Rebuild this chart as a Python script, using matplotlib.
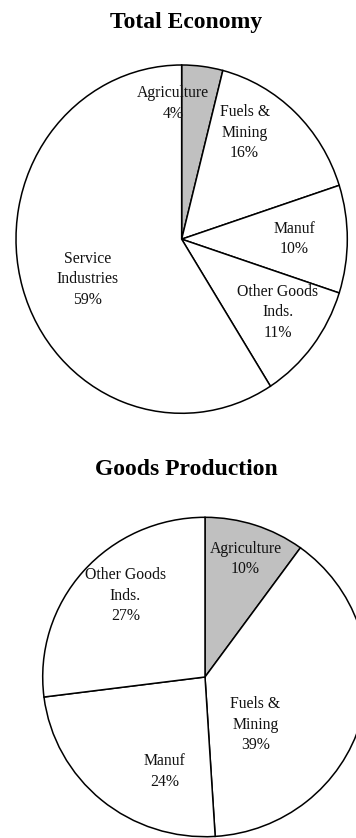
import matplotlib.pyplot as plt

plt.rcParams['font.family'] = ['Liberation Serif', 'DejaVu Serif']

# Shares of output by sector, clockwise from 12 o'clock
total_labels = ['Agriculture', 'Fuels &\nMining', 'Manuf', 'Other Goods\nInds.', 'Service\nIndustries']
total_values = [4, 16, 10, 11, 59]

goods_labels = ['Agriculture', 'Fuels &\nMining', 'Manuf', 'Other Goods\nInds.']
goods_values = [10, 39, 24, 27]

# label anchor points inside each pie (axis units, pie radius = 1)
total_label_xy = [(-0.05, 0.78), (0.38, 0.61), (0.68, 0.0), (0.58, -0.42), (-0.57, -0.23)]
goods_label_xy = [(0.25, 0.74), (0.31, -0.30), (-0.25, -0.59), (-0.49, 0.51)]

W, H = 356, 838
fig = plt.figure(figsize=(W / 100, H / 100), dpi=100, facecolor='white')


def px_axes(left, top, right, bottom):
    return fig.add_axes([left / W, 1 - bottom / H, (right - left) / W, (bottom - top) / H])


def draw_pie(ax, labels, values, label_xy):
    colors = ['#C0C0C0'] + ['white'] * (len(values) - 1)
    ax.pie(values, colors=colors, startangle=90, counterclock=False,
           wedgeprops=dict(edgecolor='black', linewidth=1.1))
    ax.set_aspect('auto')
    ax.set_xlim(-1, 1)
    ax.set_ylim(-1, 1)
    for name, val, (x, y) in zip(labels, values, label_xy):
        ax.text(x, y, f'{name}\n{val}%', ha='center', va='center',
                multialignment='center', fontsize=11.3, linespacing=1.38,
                color='#111111')
    for p in ax.patches:
        p.set_clip_on(False)


ax1 = px_axes(16, 65, 347.3, 413.3)
draw_pie(ax1, total_labels, total_values, total_label_xy)

ax2 = px_axes(42.7, 517.3, 367.3, 836.7)
draw_pie(ax2, goods_labels, goods_values, goods_label_xy)

fig.text(186.5 / W, 1 - 27.7 / H, 'Total Economy', ha='center', va='baseline',
         fontsize=17, fontweight='bold')
fig.text(186.8 / W, 1 - 475 / H, 'Goods Production', ha='center', va='baseline',
         fontsize=17, fontweight='bold')

plt.savefig('out.png', dpi=100, facecolor='white')
